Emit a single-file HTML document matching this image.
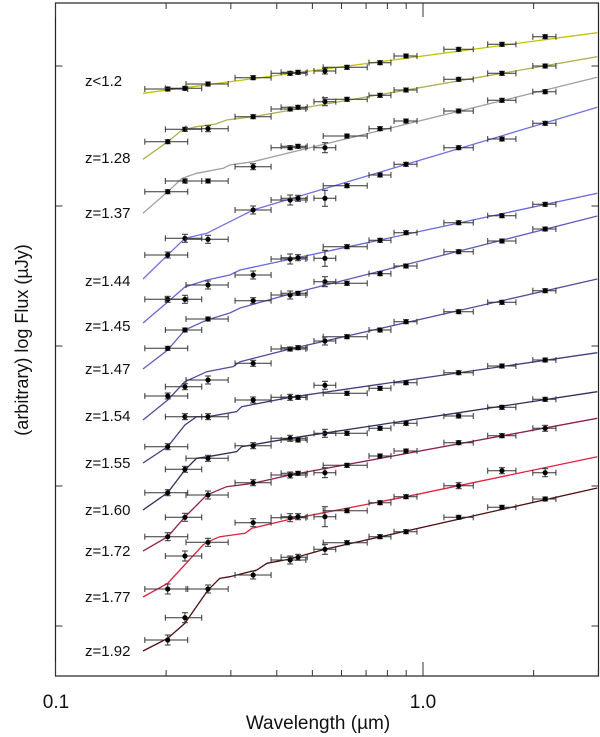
<!DOCTYPE html>
<html><head><meta charset="utf-8">
<style>
html,body{margin:0;padding:0;background:#fff;}
svg{display:block;font-family:"Liberation Sans",sans-serif;}
</style></head>
<body>
<svg id="chart" width="600" height="737" viewBox="0 0 600 737" xmlns="http://www.w3.org/2000/svg">
  <rect x="55.5" y="3" width="543" height="673" fill="none" stroke="#222" stroke-width="1.2"/>
  <g id="ticks"></g>
  <g id="series"></g>
  <text x="56" y="708" font-size="19" text-anchor="middle" fill="#111">0.1</text>
  <text x="423" y="708" font-size="19" text-anchor="middle" fill="#111">1.0</text>
  <text x="318" y="729" font-size="19" text-anchor="middle" fill="#111">Wavelength (µm)</text>
  <text transform="translate(28,340) rotate(-90)" font-size="18" text-anchor="middle" fill="#111">(arbitrary) log Flux (µJy)</text>
</svg>
<script>
// ---- data ----
const labels = ["z<1.2","z=1.28","z=1.37","z=1.44","z=1.45","z=1.47","z=1.54","z=1.55","z=1.60","z=1.72","z=1.77","z=1.92"];
const labelVals = [595,518,463,395,350,307,260,213,166,125,79,25];
const colors = ["#c4c400","#b0b050","#a0a0a0","#7272e2","#6666d6","#5e5eb8","#4f4f9e","#404080","#2e2e5c","#902050","#e2203e","#4e1010"];
const filterLam = [0.202,0.225,0.26,0.345,0.435,0.457,0.541,0.621,0.764,0.899,1.25,1.64,2.15];
const filterLo = [0.175,0.199,0.2265,0.308,0.386,0.411,0.505,0.535,0.713,0.834,1.14,1.50,1.99];
const filterHi = [0.229,0.250,0.295,0.386,0.480,0.484,0.579,0.705,0.818,0.963,1.37,1.79,2.30];
const pointVals = [
 [587,587.7,592,598.3,602.7,603.7,605,608.7,613.3,620,626.7,631.7,639.3],
 [534.3,546.7,547.3,559.3,567,568.7,574.3,576.7,580.7,586,596.7,602.7,610],
 [484.3,495,495,509.3,528.3,529.7,528.3,540,547.3,555,565,575.7,584.3],
 [421,437.7,436.7,466,476,477.7,477.7,490.3,501,511.7,528.3,537,552.7],
 [376.7,376.7,391,401,417,418.3,417.7,429.3,435.7,443.3,453.3,460.3,471.7],
 [327.7,346,357,375.3,381,382.7,394.3,392.7,402.3,410,424.3,435,447],
 [280,289.3,296,312.7,327,328.3,335,339.3,346,354.3,364.3,373.7,385.3],
 [229.3,259.3,259.3,276,278.7,278.7,290.7,282.7,287.7,293.3,303.3,310,316],
 [183.3,206.7,217.7,230.3,237.7,236,242.7,242.7,247.7,252.7,260,268.7,276.7],
 [139.3,158.7,181,193.3,201,202.7,203.3,210.7,220,225,233.3,240.3,247.7],
 [87,120,133.7,153.3,158.3,159.3,159.3,165.3,173.3,179.3,190.3,205.3,203.3],
 [36,58.3,87,101,116,118.7,126.7,133.3,139.3,144.3,158.7,168.7,177]
];
const pointErr = [
 [2,2,2,2,2,2,3,2,2,2,2,2,2],
 [2,2,3,2,2,2,4,2,2,2,2,2,2],
 [2,2,2,3,2,2,5,2,2,2,2,2,2],
 [3,4,4,4,5,3,8,2,2,2,2,2,2],
 [3,4,4,4,5,3,8,2,2,2,2,2,2],
 [2,2,2,3,4,2,5,2,2,2,2,2,2],
 [3,3,4,3,2,2,4,2,2,2,2,2,2],
 [3,3,3,3,3,2,4,2,2,2,2,2,2],
 [3,3,3,3,3,2,4,2,2,2,2,2,2],
 [4,4,4,3,3,2,5,2,2,2,2,2,3],
 [5,5,4,4,4,3,10,2,2,2,3,3,4],
 [5,5,4,4,4,3,5,2,2,2,2,2,2]
];
const modelLam = [
 [0.173,2.98],
 [0.173,0.202,0.221,0.242,0.273,0.292,0.345,2.98],
 [0.173,0.202,0.221,0.242,0.286,0.298,0.345,2.98],
 [0.173,0.202,0.225,0.258,0.298,0.311,0.345,2.98],
 [0.173,0.202,0.225,0.258,0.298,0.318,2.98],
 [0.173,0.202,0.225,0.258,0.298,0.318,0.435,2.98],
 [0.173,0.202,0.225,0.258,0.304,0.318,0.435,2.98],
 [0.173,0.202,0.225,0.242,0.26,0.311,0.321,0.435,2.98],
 [0.173,0.202,0.225,0.242,0.26,0.311,0.321,0.435,2.98],
 [0.173,0.202,0.225,0.258,0.292,0.345,0.435,2.98],
 [0.173,0.202,0.252,0.26,0.28,0.328,0.342,0.435,0.899,2.98],
 [0.173,0.202,0.225,0.26,0.28,0.298,0.353,0.376,0.435,0.541,2.98]
];
const modelVal = [
 [582.7,643.3],
 [516.7,534.3,546,549.3,552,556,559.3,619.3],
 [462.7,484.3,497.7,502.7,507.7,511,514.3,598.7],
 [397,421,437.7,442.7,454.3,457.7,466,568.7],
 [353,374,389,396,401,406,482.7],
 [307,326,346,356,363,368,382,460],
 [256,276,294.3,304.3,309.3,314.3,327,397],
 [213,229.3,251,259.3,259.3,264.3,269.3,278.7,323.3],
 [166,183.3,206,217.7,219.3,224.3,229.3,237.7,284.3],
 [125,139.3,159,181,189.3,192.7,201,257.7],
 [79,92.7,131,134.3,139.3,142.7,147.7,156.7,179.3,219.3],
 [25,37.7,52.7,86,97.7,99.3,106,112.7,117,126.7,188]
];
const yTickVals = [50,190,330,470,610];
const xMinorTicks = [0.2,0.3,0.4,0.5,0.6,0.7,0.8,0.9,2.0,3.0];
const xMajorTicks = [0.1,1.0];

// ---- axes ----
const X0 = 55.5, X1 = 598.5, DEC = 367.5, YB = 676, YT = 3;
function xs(l){ return X0 + DEC*Math.log10(l/0.1); }
function ys(v){ return YB - v; }
const NS = "http://www.w3.org/2000/svg";
function mk(tag, attrs, parent){
  const e = document.createElementNS(NS, tag);
  for (const k in attrs) e.setAttribute(k, attrs[k]);
  parent.appendChild(e); return e;
}
const tg = document.getElementById('ticks');
yTickVals.forEach(v=>{
  const y = ys(v);
  const a = mk('line',{x1:X0,x2:X0+7,y1:y,y2:y,stroke:'#333','stroke-width':1},tg);
  
  
  const b = mk('line',{x1:X1-7,x2:X1,y1:y,y2:y,stroke:'#333','stroke-width':1},tg);
  
  
});
xMinorTicks.forEach(l=>{
  const x = xs(l); if (x > X1) return;
  const a = mk('line',{x1:x,x2:x,y1:YB,y2:YB-6,stroke:'#333','stroke-width':1},tg);
  
  
  const b = mk('line',{x1:x,x2:x,y1:YT,y2:YT+6,stroke:'#333','stroke-width':1},tg);
  
  
});
xMajorTicks.forEach(l=>{
  const x = xs(l);
  const a = mk('line',{x1:x,x2:x,y1:YB,y2:YB-14,stroke:'#333','stroke-width':1},tg);
  
  
  const b = mk('line',{x1:x,x2:x,y1:YT,y2:YT+14,stroke:'#333','stroke-width':1},tg);
  
  
});

// ---- series ----
const sg = document.getElementById('series');
labels.forEach((lab,i)=>{
  const g = mk('g',{},sg);
  
  
  const d = modelLam[i].map((l,j)=>{
    let x = xs(l), y = ys(modelVal[i][j]);
    if (x > X1) { // clip to frame
      const l0 = modelLam[i][j-1], v0 = modelVal[i][j-1];
      const t = (X1 - xs(l0))/(x - xs(l0));
      y = ys(v0 + t*(modelVal[i][j]-v0)); x = X1;
    }
    return (j?'L':'M')+x.toFixed(1)+','+y.toFixed(1);
  }).join(' ');
  const p = mk('path',{d:d,fill:'none',stroke:colors[i],'stroke-width':1.3},g);
  
  
  const t = mk('text',{x:85,y:ys(labelVals[i])+5,'font-size':15,fill:'#111'},g);
  t.textContent = lab;
  
  
  filterLam.forEach((l,k)=>{
    const x = xs(l), y = ys(pointVals[i][k]);
    const xl = xs(filterLo[k]), xh = xs(filterHi[k]);
    const e = pointErr[i][k];
    const pg = mk('g',{stroke:'#333','stroke-width':1},g);
    
    
    mk('line',{x1:xl,x2:xh,y1:y,y2:y},pg);
    mk('line',{x1:xl,x2:xl,y1:y-3,y2:y+3},pg);
    mk('line',{x1:xh,x2:xh,y1:y-3,y2:y+3},pg);
    mk('line',{x1:x,x2:x,y1:y-e,y2:y+e},pg);
    mk('line',{x1:x-3,x2:x+3,y1:y-e,y2:y-e},pg);
    mk('line',{x1:x-3,x2:x+3,y1:y+e,y2:y+e},pg);
    mk('circle',{cx:x,cy:y,r:2.6,fill:'#000',stroke:'none'},pg);
  });
});
</script>
</body></html>
